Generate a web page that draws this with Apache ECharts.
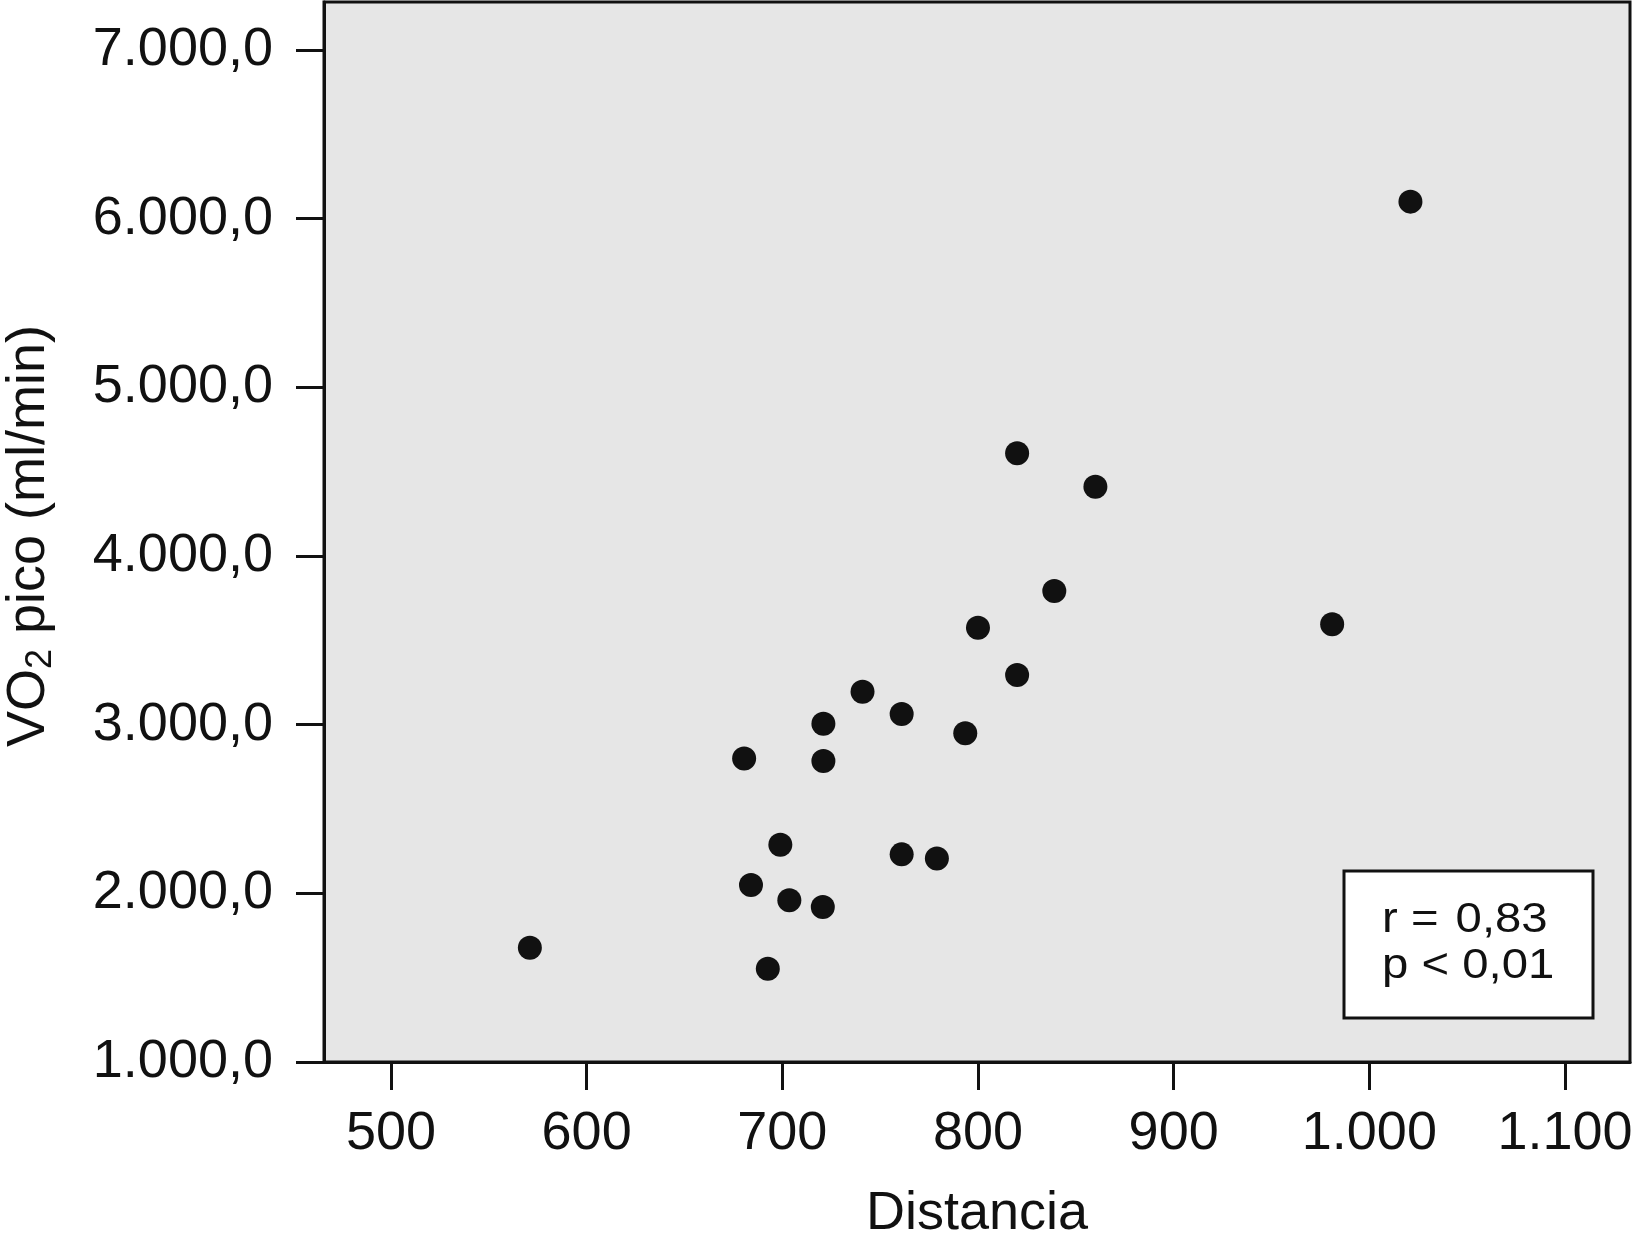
<!DOCTYPE html>
<html>
<head>
<meta charset="utf-8">
<style>
  html, body { margin: 0; padding: 0; background: #fff; }
  #chart { width: 1633px; height: 1248px; }
</style>
<script src="https://cdn.jsdelivr.net/npm/echarts@6/dist/echarts.min.js"></script>
</head>
<body>
<div id="chart"></div>
<script>
// Distancia (x) vs VO2 pico (y), one entry per subject
const distancia = [741, 761, 721, 793.5, 680.5, 721, 699, 761, 779, 684, 703.6, 720.7, 571, 692.6, 820, 860, 839, 800, 820, 981, 1021];
const vo2Pico = [3195, 3063, 3006, 2949, 2800, 2785, 2288, 2231, 2206, 2049, 1959, 1919, 1678, 1553, 4609, 4411, 3792, 3575, 3294, 3595, 6101];

const xTicks = [500, 600, 700, 800, 900, 1000, 1100];
const yTicks = [1000, 2000, 3000, 4000, 5000, 6000, 7000];

// hair space after "=" widens the gap like the original
const statsLines = ['r = \u200A0,83', 'p < 0,01'];

const FONT = "'Liberation Sans', Arial, Helvetica, sans-serif";
const INK = '#111111';

// 1234.5 -> "1.234,5" (Spanish style separators)
function fmt(v, decimals) {
  const parts = v.toFixed(decimals).split('.');
  const int = parts[0].replace(/\B(?=(\d{3})+(?!\d))/g, '.');
  return parts.length > 1 ? int + ',' + parts[1] : int;
}

const chart = echarts.init(document.getElementById('chart'), null, { renderer: 'canvas' });

const axisLine = { show: true, onZero: false, lineStyle: { color: INK, width: 3 } };

chart.setOption({
  animation: false,
  backgroundColor: '#ffffff',
  grid: {
    left: 324, right: 3, top: 2, bottom: 186,
    show: true,
    backgroundColor: '#e6e6e6',
    borderColor: INK,
    borderWidth: 3,
    outerBoundsMode: 'none'
  },
  xAxis: {
    type: 'value',
    min: 465.8,
    max: 1133.2,
    axisLine: axisLine,
    axisTick: { show: true, length: 28, customValues: xTicks, lineStyle: { color: INK, width: 3 } },
    axisLabel: {
      customValues: xTicks,
      margin: 45,
      fontSize: 54,
      fontFamily: FONT,
      color: INK,
      formatter: v => fmt(v, 0)
    },
    splitLine: { show: false },
    name: 'Distancia',
    nameLocation: 'middle',
    nameGap: 125,
    nameTextStyle: { fontSize: 54, fontFamily: FONT, color: INK }
  },
  yAxis: {
    type: 'value',
    min: 1000,
    max: 7284.6,
    axisLine: axisLine,
    axisTick: { show: true, length: 28, customValues: yTicks, lineStyle: { color: INK, width: 3 } },
    axisLabel: {
      customValues: yTicks,
      margin: 51,
      fontSize: 54,
      fontFamily: FONT,
      color: INK,
      padding: [5, 0, 0, 0],
      formatter: v => fmt(v, 1)
    },
    splitLine: { show: false },
    name: '{a|VO}{s|2}{a| pico (ml/min)}',
    nameLocation: 'middle',
    nameGap: 265,
    nameTextStyle: {
      padding: [0, 8, 0, 0],
      rich: {
        a: { fontSize: 54, lineHeight: 60, fontFamily: FONT, color: INK },
        s: { fontSize: 36, lineHeight: 28, verticalAlign: 'bottom', fontFamily: FONT, color: INK }
      }
    }
  },
  graphic: [
    {
      type: 'rect',
      z: 10,
      shape: { x: 1344, y: 871, width: 249, height: 147 },
      style: { fill: '#ffffff', stroke: INK, lineWidth: 3 }
    },
    {
      type: 'text',
      z: 11,
      x: 1382,
      y: 943,
      scaleX: 1.1,
      style: {
        x: 0, y: 0,
        text: statsLines.join('\n'),
        fontSize: 43,
        lineHeight: 46,
        fontFamily: FONT,
        fill: INK,
        align: 'left',
        verticalAlign: 'middle'
      }
    }
  ],
  series: [{
    type: 'scatter',
    symbol: 'circle',
    symbolSize: 24,
    itemStyle: { color: INK, opacity: 1 },
    data: distancia.map((d, i) => [d, vo2Pico[i]])
  }]
});
</script>
</body>
</html>
